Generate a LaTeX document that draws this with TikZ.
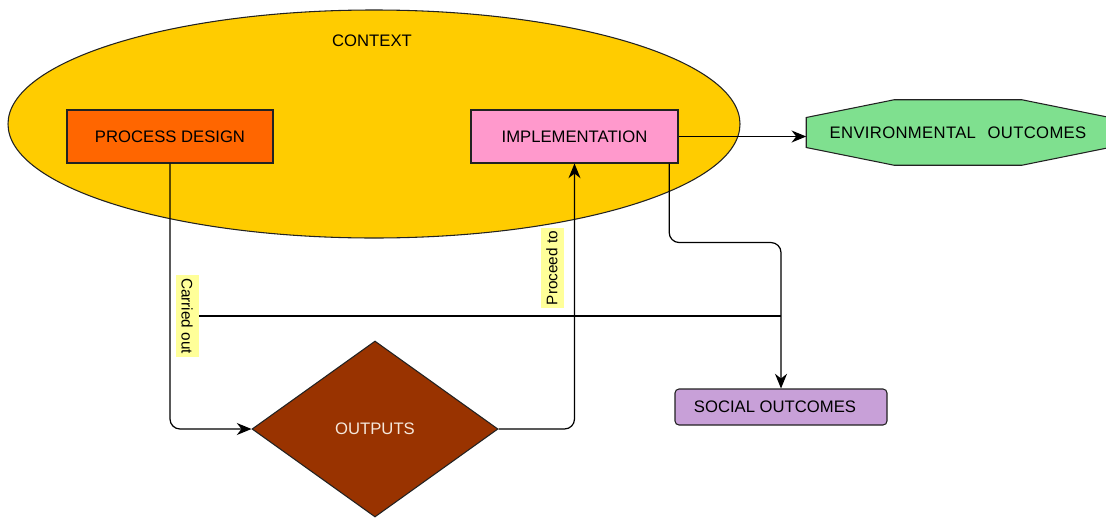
\documentclass[tikz,border=0pt]{standalone}
\usepackage{fontspec}
\setmainfont{Liberation Sans}
\usetikzlibrary{shapes.geometric,arrows.meta,calc,backgrounds}
\definecolor{ctxfill}{HTML}{FFCC00}
\definecolor{pdfill}{HTML}{FF6600}
\definecolor{implfill}{HTML}{FF99CC}
\definecolor{envfill}{HTML}{7FE08F}
\definecolor{socfill}{HTML}{C8A0D8}
\definecolor{outfill}{HTML}{993300}
\definecolor{outtext}{HTML}{F5E8DC}
\definecolor{tagfill}{HTML}{FFFF99}
\definecolor{edge}{HTML}{222222}
\begin{document}
\begin{tikzpicture}[x=0.75pt,y=-0.75pt,
  font=\fontsize{12.5pt}{15pt}\selectfont,
  box/.style={draw=edge,line width=0.8pt,inner sep=0pt},
  conn/.style={draw=black,line width=0.9pt,rounded corners=7.5pt},
  arr/.style={conn,-{Stealth[length=11pt,width=9pt,inset=3.5pt]}},
  tag/.style={fill=tagfill,inner xsep=2.5pt,inner ysep=0pt,minimum height=17.25pt,
    font=\fontsize{11.5pt}{13pt}\selectfont}]
\useasboundingbox (0,0) rectangle (1106,518);

% the surrounding context
\node[box,ellipse,fill=ctxfill,minimum width=549pt,minimum height=171pt] (ctx) at (374,124) {};
\node (ctxlabel) at (372,41) {CONTEXT};

% stages
\node[box,fill=pdfill,minimum width=154.5pt,minimum height=39.75pt] (pd) at (170,136.5) {PROCESS DESIGN};
\node[box,fill=implfill,minimum width=155.25pt,minimum height=39.75pt] (impl) at (574.5,136.5) {IMPLEMENTATION};
\node[box,diamond,fill=outfill,text=outtext,minimum width=184.5pt,minimum height=132pt] (out) at (375,429) {OUTPUTS};

% outcomes
\node[inner sep=0pt,minimum width=227.25pt,minimum height=48.75pt] (env) at (958,132.5)
  {\addfontfeature{LetterSpace=2}ENVIRONMENTAL\hspace{0.7em}OUTCOMES};
\begin{scope}[on background layer]
  \draw[box,fill=envfill]
    ($(env.west)+(0,-15)$) -- ($(env.north west)+(88,0)$) -- ($(env.north east)+(-88,0)$)
    -- ($(env.east)+(0,-15)$) -- ($(env.east)+(0,15)$) -- ($(env.south east)+(-88,0)$)
    -- ($(env.south west)+(88,0)$) -- ($(env.west)+(0,15)$) -- cycle;
\end{scope}
\node[box,fill=socfill,rounded corners=3pt,minimum width=159pt,minimum height=27pt] (soc) at (781,407) {\hspace*{-9pt}SOCIAL OUTCOMES};

% labels on the connectors
\node[tag,rotate=-90] (carried) at (187,316) {Carried out};
\node[tag,rotate=90] (proceed) at (552,268) {Proceed to};

% connectors
\draw[arr] (impl.east) -- (impl.east -| env.west);
\draw[arr] ([xshift=-7pt]impl.south east) -- ++(0,79) -| (soc.north);
\draw[arr] (pd.south) |- (out.west);
\draw[arr] (out.east) -| (impl.south);
\draw[conn] (carried.north) -- (carried.north -| soc.north);
\end{tikzpicture}
\end{document}
